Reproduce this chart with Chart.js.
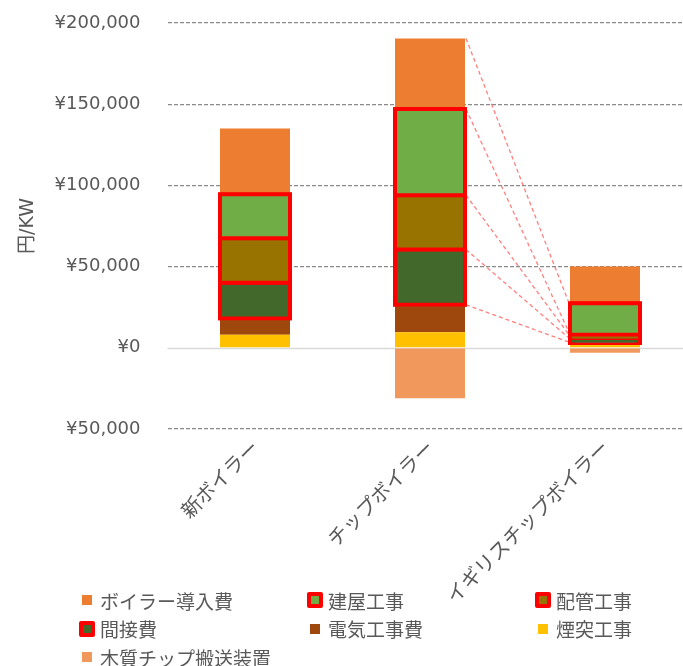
<!DOCTYPE html>
<html>
<head>
<meta charset="utf-8">
<script src="https://cdn.jsdelivr.net/npm/chart.js@4.4.1/dist/chart.umd.min.js"></script>
<style>
  html, body { margin: 0; padding: 0; background: #fff; overflow: hidden; width: 683px; height: 666px; }
  #wrap { position: relative; width: 683px; height: 666px; overflow: hidden; }
  #chart { position: absolute; left: 0; top: 0; }
  #legend {
    position: absolute; left: 79px; top: 586px;
    display: grid; grid-template-columns: repeat(3, 228px); grid-auto-rows: 28.5px;
    font: 19px "Noto Sans CJK JP", sans-serif; color: #595959;
  }
  .item { display: flex; align-items: center; white-space: nowrap; }
  .mk { width: 16px; height: 16px; margin-right: 5px; display: flex; align-items: center; justify-content: center; flex: none; }
  .sw { width: 10px; height: 10px; box-sizing: border-box; }
  .mk.b .sw { width: 16px; height: 16px; border: 4px solid #ff0000; border-radius: 2px; }
</style>
</head>
<body>
<div id="wrap">
  <canvas id="chart" width="700" height="666"></canvas>
  <div id="legend"></div>
</div>
<script>
// Cost breakdown per kW for three boiler types (yen / kW)
const categories = ['新ボイラー', 'チップボイラー', 'イギリスチップボイラー'];

const chimney      = [8000, 9500, 2000];     // 煙突工事
const electrical   = [10000, 17000, 1000];   // 電気工事費
const indirect     = [22000, 34000, 3000];   // 間接費
const piping       = [27500, 33500, 2000];   // 配管工事
const building     = [27000, 53000, 19500];  // 建屋工事
const boiler       = [40500, 43500, 22500];  // ボイラー導入費
const chipConveyor = [0, -31000, -3000];     // 木質チップ搬送装置

const yTicks = [-50000, 0, 50000, 100000, 150000, 200000];

// Guide lines from the chip boiler's stack boundaries down to the UK chip boiler
const sumAt = (arrs, i) => arrs.reduce((s, a) => s + a[i], 0);
const linkFrom = [
  sumAt([chimney, electrical, indirect, piping, building, boiler], 1),
  sumAt([chimney, electrical, indirect, piping, building], 1),
  sumAt([chimney, electrical, indirect, piping], 1),
  sumAt([chimney, electrical, indirect], 1),
  sumAt([chimney, electrical], 1)
];
const linkTo = [27500, 9500, 8000, 6000, 3500];

const RED = '#ff0000';
const plain = (label, data, color) => ({
  label, data, backgroundColor: color, borderWidth: 0, outlined: false
});
const outlined = (label, data, color) => ({
  label, data, backgroundColor: color, borderColor: RED, borderWidth: 4,
  borderSkipped: false, inflateAmount: 2, outlined: true
});

// stacking order: first dataset sits nearest the zero line
const datasets = [
  plain('煙突工事', chimney, '#FFC000'),
  plain('電気工事費', electrical, '#9E480E'),
  outlined('間接費', indirect, '#43682B'),
  outlined('配管工事', piping, '#997300'),
  outlined('建屋工事', building, '#70AD47'),
  plain('ボイラー導入費', boiler, '#ED7D31'),
  plain('木質チップ搬送装置', chipConveyor, '#F1995D')
];

const legendOrder = ['ボイラー導入費', '建屋工事', '配管工事', '間接費', '電気工事費', '煙突工事', '木質チップ搬送装置'];

const TEXT = '#595959';
const FONT = '"DejaVu Sans", "Noto Sans CJK JP", sans-serif';

const zeroLine = {
  id: 'zeroLine',
  beforeDatasetsDraw(chart) {
    const { ctx, chartArea, scales } = chart;
    const y = Math.round(scales.y.getPixelForValue(0)) + 0.5;
    ctx.save();
    ctx.strokeStyle = '#d9d9d9';
    ctx.lineWidth = 1.5;
    ctx.beginPath();
    ctx.moveTo(chartArea.left, y);
    ctx.lineTo(chartArea.right, y);
    ctx.stroke();
    ctx.restore();
  }
};

const links = {
  id: 'links',
  afterDatasetsDraw(chart) {
    const { ctx, scales } = chart;
    const ref = chart.getDatasetMeta(0).data;
    const x1 = ref[1].x + ref[1].width / 2 + 1;
    const x2 = ref[2].x - ref[2].width / 2 - 1;
    ctx.save();
    ctx.strokeStyle = 'rgba(255, 95, 95, 0.8)';
    ctx.lineWidth = 1.3;
    ctx.setLineDash([4, 3]);
    linkFrom.forEach((v, k) => {
      ctx.beginPath();
      ctx.moveTo(x1, scales.y.getPixelForValue(v));
      ctx.lineTo(x2, scales.y.getPixelForValue(linkTo[k]));
      ctx.stroke();
    });
    ctx.restore();
    // outlined segments go on top so their borders are not covered by neighbours
    chart.data.datasets.forEach((ds, i) => {
      if (ds.outlined) chart.getDatasetMeta(i).data.forEach(el => el.draw(ctx));
    });
  }
};

const chart = new Chart(document.getElementById('chart'), {
  type: 'bar',
  data: { labels: categories, datasets },
  options: {
    responsive: false,
    animation: false,
    devicePixelRatio: 1,
    layout: { padding: { top: 23, right: 7.5, left: 0, bottom: 0 } },
    datasets: { bar: { barPercentage: 0.4, categoryPercentage: 1 } },
    plugins: { legend: { display: false }, tooltip: { enabled: false } },
    scales: {
      x: {
        stacked: true,
        grid: { display: false, drawTicks: false },
        border: { display: false },
        ticks: {
          autoSkip: false, minRotation: 45, maxRotation: 45, padding: 6,
          color: TEXT, font: { family: '"Noto Sans CJK JP", sans-serif', size: 20 }
        },
        afterFit(scale) { scale.height = 237; }
      },
      y: {
        stacked: true,
        min: -50000, max: 200000,
        afterBuildTicks(scale) { scale.ticks = yTicks.map(v => ({ value: v })); },
        grid: {
          drawTicks: false, tickLength: 0, lineWidth: 1.3,
          color: ctx => (ctx.tick && ctx.tick.value === 0) ? 'rgba(0,0,0,0)' : '#8a8a8a'
        },
        border: { display: false, dash: [4, 2] },
        ticks: {
          padding: 27, color: TEXT, font: { family: FONT, size: 18 },
          callback: v => '¥' + Math.abs(v).toLocaleString('en-US')
        },
        title: {
          display: true, text: '円/KW', color: TEXT,
          font: { family: FONT, size: 19 }, padding: { top: 17, bottom: 0 }
        },
        afterFit(scale) {
          scale.width = 167.5;
          // the label gap is horizontal only; keep it out of the vertical margins
          scale.paddingTop = 11;
          scale.paddingBottom = 11;
        }
      }
    }
  },
  plugins: [zeroLine, links]
});

// legend laid out in three columns
const legend = document.getElementById('legend');
legendOrder.forEach(name => {
  const ds = datasets.find(d => d.label === name);
  const item = document.createElement('div');
  item.className = 'item';
  const mk = document.createElement('span');
  mk.className = 'mk' + (ds.outlined ? ' b' : '');
  const sw = document.createElement('span');
  sw.className = 'sw';
  sw.style.background = ds.backgroundColor;
  mk.appendChild(sw);
  const tx = document.createElement('span');
  tx.textContent = ds.label;
  item.appendChild(mk);
  item.appendChild(tx);
  legend.appendChild(item);
});
</script>
</body>
</html>
